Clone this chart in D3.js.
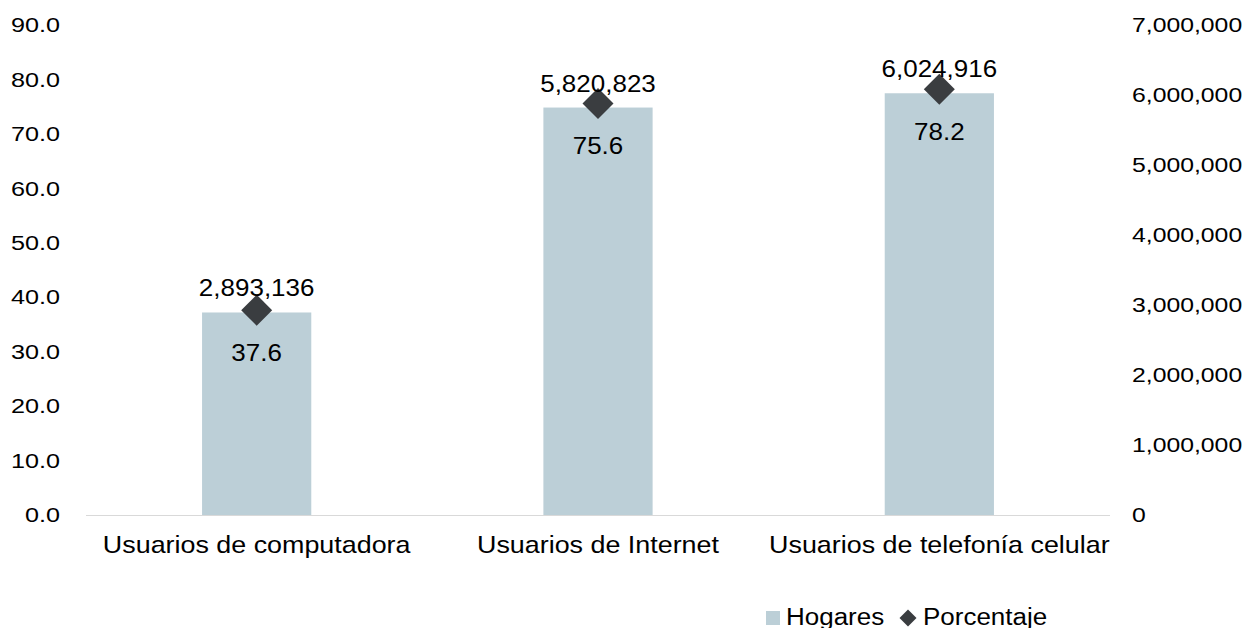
<!DOCTYPE html>
<html>
<head>
<meta charset="utf-8">
<script src="https://cdn.jsdelivr.net/npm/d3@7"></script>
<style>
  body { margin: 0; background: #fff; }
  text { font-family: "Liberation Sans", Arial, sans-serif; fill: #000; }
</style>
</head>
<body>
<div id="chart"></div>
<script>
var categories = ["Usuarios de computadora", "Usuarios de Internet", "Usuarios de telefonía celular"]
var hogares = [2893136, 5820823, 6024916]
var porcentaje = [37.6, 75.6, 78.2]
var leftTicks = [0, 10, 20, 30, 40, 50, 60, 70, 80, 90]
var rightTicks = [0, 1000000, 2000000, 3000000, 4000000, 5000000, 6000000, 7000000]

var W = 1255, H = 628
var m = {left: 86, right: 145, top: 25, bottom: 113}

// the original picture is a bit wider than tall, so text gets stretched sideways
function stretch(sel, sx){
  sel.each(function(){
    var t = d3.select(this)
    var x = +t.attr("x") || 0
    t.attr("x", x / sx).attr("transform", "scale(" + sx + ",1)")
  })
}

var svg = d3.select("#chart").append("svg")
  .attr("width", W)
  .attr("height", H)

var x = d3.scaleBand()
  .domain(categories)
  .range([m.left, W - m.right])
  .paddingInner(0.68)
  .paddingOuter(0.34)

var yL = d3.scaleLinear().domain([0, 90]).range([H - m.bottom, m.top])
var yR = d3.scaleLinear().domain([0, 7000000]).range([H - m.bottom, m.top])

// left axis (porcentaje)
var axL = svg.append("g")
  .attr("transform", "translate(" + m.left + ",0)")
  .call(d3.axisLeft(yL).tickValues(leftTicks).tickFormat(d3.format(".1f")).tickSize(0).tickPadding(26))
axL.select(".domain").remove()
axL.selectAll("text").style("font-size", "21px").call(stretch, 1.2)

// right axis (hogares)
var axR = svg.append("g")
  .attr("transform", "translate(" + (W - m.right) + ",0)")
  .call(d3.axisRight(yR).tickValues(rightTicks).tickFormat(d3.format(",")).tickSize(0).tickPadding(22))
axR.select(".domain").remove()
axR.selectAll("text").style("font-size", "21px").call(stretch, 1.18)

// bars
svg.selectAll("rect.bar")
  .data(hogares).enter()
  .append("rect")
  .attr("class", "bar")
  .attr("x", function(d, i){ return x(categories[i]) })
  .attr("y", function(d){ return yR(d) })
  .attr("width", x.bandwidth())
  .attr("height", function(d){ return yR(0) - yR(d) })
  .style("fill", "#bccfd7")

// baseline
svg.append("line")
  .attr("x1", m.left).attr("x2", W - m.right)
  .attr("y1", yL(0) + 0.5).attr("y2", yL(0) + 0.5)
  .style("stroke", "#d9d9d9").style("stroke-width", 1)

// category labels
var axB = svg.append("g")
  .attr("transform", "translate(0," + yL(0) + ")")
  .call(d3.axisBottom(x).tickSize(0).tickPadding(21))
axB.select(".domain").remove()
axB.selectAll("text").style("font-size", "24px").call(stretch, 1.12)

// diamonds
svg.selectAll("path.pt")
  .data(porcentaje).enter()
  .append("path")
  .attr("class", "pt")
  .attr("d", d3.symbol().type(d3.symbolSquare).size(480))
  .attr("transform", function(d, i){
    return "translate(" + (x(categories[i]) + x.bandwidth() / 2) + "," + yL(d) + ") rotate(45)"
  })
  .style("fill", "#3a3d40")

// labels: hogares above, porcentaje below
svg.selectAll("text.hl")
  .data(hogares).enter()
  .append("text")
  .attr("class", "hl")
  .attr("x", function(d, i){ return x(categories[i]) + x.bandwidth() / 2 })
  .attr("y", function(d){ return yR(d) - 16 })
  .attr("text-anchor", "middle")
  .style("font-size", "23px")
  .text(function(d){ return d3.format(",")(d) })
  .call(stretch, 1.13)

svg.selectAll("text.pl")
  .data(porcentaje).enter()
  .append("text")
  .attr("class", "pl")
  .attr("x", function(d, i){ return x(categories[i]) + x.bandwidth() / 2 })
  .attr("y", function(d){ return yL(d) + 51 })
  .attr("text-anchor", "middle")
  .style("font-size", "23px")
  .text(function(d){ return d3.format(".1f")(d) })
  .call(stretch, 1.13)

// legend
var lg = svg.append("g").attr("transform", "translate(766,0)")
lg.append("rect").attr("x", 0).attr("y", 611).attr("width", 14).attr("height", 14).style("fill", "#bccfd7")
lg.append("text").attr("x", 20).attr("y", 625).style("font-size", "23px").text("Hogares").call(stretch, 1.13)
lg.append("path")
  .attr("d", d3.symbol().type(d3.symbolSquare).size(145))
  .attr("transform", "translate(142,618) rotate(45)")
  .style("fill", "#3a3d40")
lg.append("text").attr("x", 157).attr("y", 625).style("font-size", "23px").text("Porcentaje").call(stretch, 1.13)

// source note, cut off at the bottom edge
svg.append("text")
  .attr("x", 22).attr("y", 637)
  .style("font-size", "13px").style("fill", "#7f7f7f")
  .text("Nota: Cifras redondeadas con respecto a los totales de la Encuesta.")
  .call(stretch, 1.13)
</script>
</body>
</html>
